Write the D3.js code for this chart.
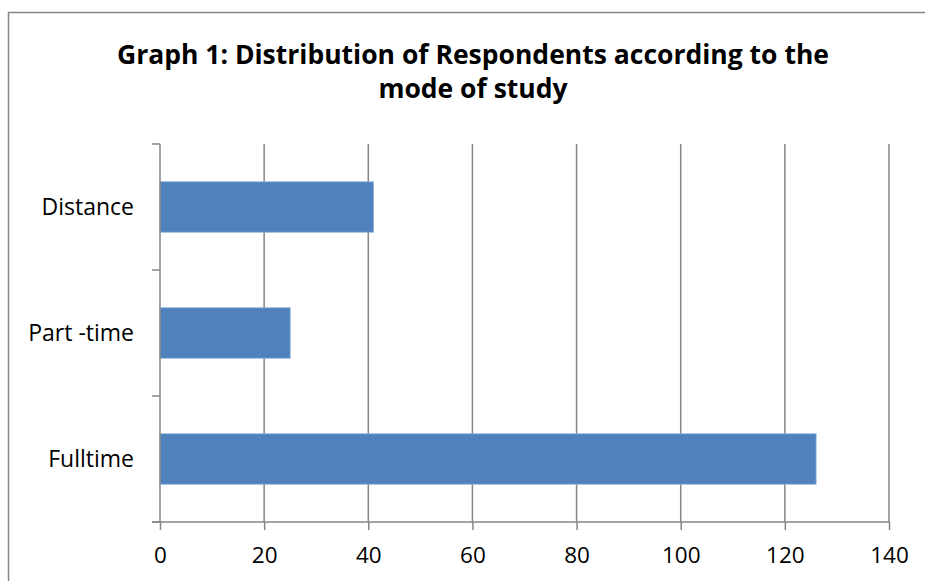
<!DOCTYPE html>
<html><head><meta charset="utf-8">
<script src="https://cdn.jsdelivr.net/npm/d3@7"></script>
<style>html,body{margin:0;padding:0;background:#fff;overflow:hidden}</style>
</head><body>
<svg id="c" width="925" height="581"></svg>
<script>
const categories = ["Distance", "Part -time", "Fulltime"];
const values = [41, 25, 126];
const xTicks = [0, 20, 40, 60, 80, 100, 120, 140];
const titleLines = ["Graph 1: Distribution of Respondents according to the", "mode of study"];

const svg = d3.select("#c");
const font = "'Open Sans', 'Liberation Sans', sans-serif";
const grid = "#868686";

svg.append("path").attr("d", "M8.5,700V12.5H1000")
  .attr("fill", "none").attr("stroke", grid).attr("stroke-width", 1.5);

const L = 160, R = 889, T = 144, B = 522;
const x = d3.scaleLinear().domain([0, 140]).range([L, R]);
const y = d3.scaleBand().domain(categories).range([T, B]).paddingInner(0.6).paddingOuter(0.3);
const yb = d3.scaleBand().domain(categories).range([T, B]).padding(0);

// gridlines
svg.append("g").selectAll("line").data(xTicks.filter(d => d > 0)).join("line")
  .attr("x1", d => x(d)).attr("x2", d => x(d)).attr("y1", T).attr("y2", B)
  .attr("stroke", grid).attr("stroke-width", 1.5);

// bars
svg.append("g").selectAll("rect").data(categories).join("rect")
  .attr("x", x(0)).attr("y", d => y(d))
  .attr("width", (d, i) => x(values[i]) - x(0)).attr("height", y.bandwidth())
  .attr("fill", "#4f81bd").attr("stroke", "#8eb0dd").attr("stroke-width", 0.8);

// x axis
const xa = svg.append("g").attr("transform", `translate(0,${B})`)
  .call(d3.axisBottom(x).tickValues(xTicks).tickSize(8).tickPadding(12).tickFormat(d3.format("d")));
xa.select(".domain").attr("stroke", grid).attr("stroke-width", 1.5).attr("d", `M${L-8},0H${R}`);
xa.selectAll(".tick line").attr("stroke", grid).attr("stroke-width", 1.5);
xa.selectAll(".tick text").attr("font-family", font).attr("font-size", 22.5).attr("fill", "#000").attr("dy", "0.92em");

// y axis
const ya = svg.append("g").attr("transform", `translate(${L},0)`)
  .call(d3.axisLeft(yb).tickSize(0).tickPadding(26));
ya.select(".domain").attr("stroke", grid).attr("stroke-width", 1.5).attr("d", `M0,${T}V${B}`);
ya.selectAll(".tick text").attr("font-family", font).attr("font-size", 23).attr("fill", "#000").attr("dy", "0.35em");
// category boundary ticks
svg.append("g").selectAll("line").data([T, ...categories.map(c => yb(c) + yb.bandwidth())]).join("line")
  .attr("x1", L - 8).attr("x2", L).attr("y1", d => d).attr("y2", d => d)
  .attr("stroke", grid).attr("stroke-width", 1.5);

// title
svg.append("g").selectAll("text").data(titleLines).join("text")
  .attr("x", 473).attr("y", (d, i) => 64 + i * 34)
  .attr("text-anchor", "middle").attr("font-family", font).attr("font-weight", "bold")
  .attr("font-size", 26.5).attr("fill", "#000").text(d => d);
</script>
</body></html>
